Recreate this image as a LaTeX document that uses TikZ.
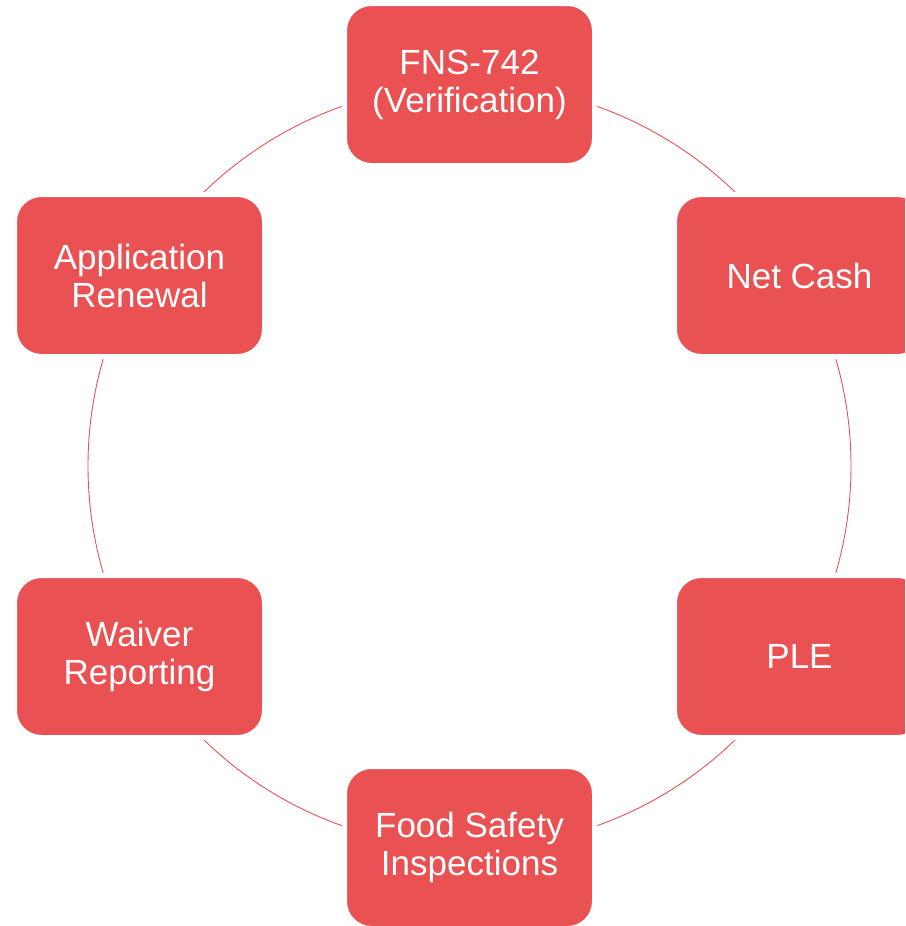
\documentclass[tikz,border=0pt]{standalone}
\usepackage{fontspec}
\setmainfont{Liberation Sans}
\definecolor{boxred}{HTML}{E95153}
\begin{document}
\begin{tikzpicture}[x=1pt,y=-1pt,
  stage/.style={rectangle, rounded corners=27pt, fill=boxred, draw=white, line width=5pt,
    minimum width=250pt, minimum height=162pt, text=white, align=center,
    font=\fontsize{35}{38}\selectfont, inner sep=0pt},
  ring/.style={draw=boxred, line width=0.9pt}]
\useasboundingbox (0,0) rectangle (905,926);
\clip (0,0) rectangle (905,926);
\coordinate (c) at (469.5,466);
\draw[ring] (c) circle[radius=381.5pt];
\node[stage] (top) at (469.5,84.5) {FNS-742\\(Verification)};
\node[stage] (ur) at (799.5,275.5) {Net Cash};
\node[stage] (lr) at (799.5,656.5) {PLE};
\node[stage] (bot) at (469.5,847.5) {Food Safety\\Inspections};
\node[stage] (ll) at (139.5,656.5) {Waiver\\Reporting};
\node[stage] (ul) at (139.5,275.5) {Application\\Renewal};
\end{tikzpicture}
\end{document}
